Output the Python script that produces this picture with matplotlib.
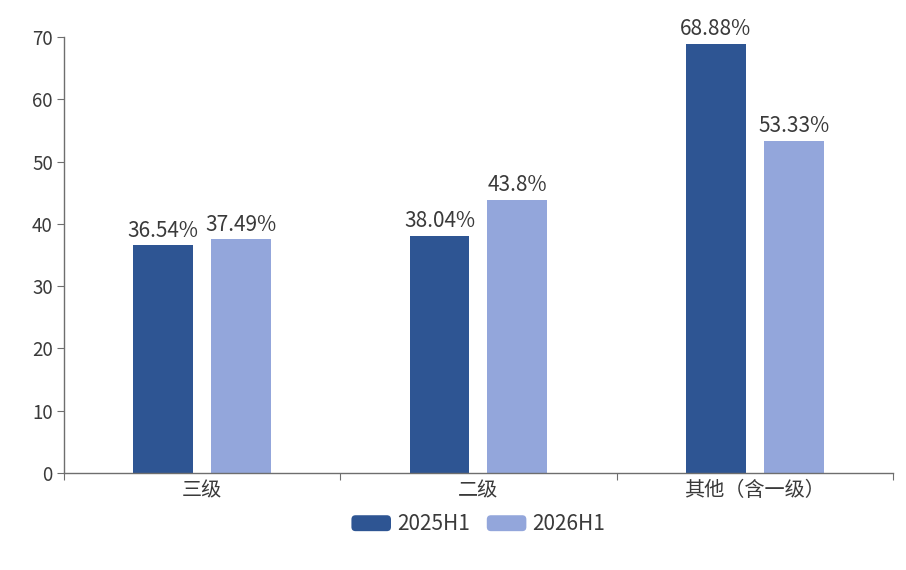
import numpy as np
import matplotlib.pyplot as plt
from matplotlib.patches import FancyBboxPatch
from matplotlib.legend_handler import HandlerPatch

plt.rcParams['font.family'] = ['Noto Sans CJK SC', 'DejaVu Sans']

categories = ['三级', '二级', '其他（含一级）']
series_names = ['2025H1', '2026H1']
values_2025 = [36.54, 38.04, 68.88]
values_2026 = [37.49, 43.8, 53.33]
labels_2025 = ['36.54%', '38.04%', '68.88%']
labels_2026 = ['37.49%', '43.8%', '53.33%']

dark = '#2e5593'
light = '#93a6db'
text_col = '#3a3a3a'
axis_col = '#6e6e6e'

fig = plt.figure(figsize=(9.06, 5.70), dpi=100)
ax = fig.add_axes([0.0706, 0.1702, 0.915, 0.7649])

x = np.arange(len(categories))
w = 0.217
off = 0.141
b1 = ax.bar(x - off, values_2025, w, color=dark, label=series_names[0])
b2 = ax.bar(x + off, values_2026, w, color=light, label=series_names[1])

for bars, labs in ((b1, labels_2025), (b2, labels_2026)):
    for bar, lab in zip(bars, labs):
        ax.text(bar.get_x() + bar.get_width() / 2, bar.get_height() + 0.6, lab,
                ha='center', va='bottom', fontsize=15, color=text_col)

ax.set_xlim(-0.5, 2.5)
ax.set_ylim(0, 70)
ax.set_yticks(range(0, 71, 10))
ax.set_xticks([-0.5, 0.5, 1.5, 2.5])
ax.set_xticklabels([])
ax.set_xticks(x, minor=True)
ax.set_xticklabels(categories, minor=True)
ax.tick_params(axis='x', which='major', length=5, color=axis_col, direction='out')
ax.tick_params(axis='x', which='minor', length=0, pad=5, labelsize=14.5, labelcolor=text_col)
ax.tick_params(axis='y', length=5, color=axis_col, labelsize=13.5, labelcolor=text_col, pad=3)

for s in ('top', 'right'):
    ax.spines[s].set_visible(False)
for s in ('left', 'bottom'):
    ax.spines[s].set_color(axis_col)
    ax.spines[s].set_linewidth(1.0)


class RoundHandler(HandlerPatch):
    def create_artists(self, legend, orig_handle, xdescent, ydescent, width, height, fontsize, trans):
        p = FancyBboxPatch((-xdescent, -ydescent), width, height,
                           boxstyle='round,pad=0,rounding_size=3',
                           facecolor=orig_handle.get_facecolor(), edgecolor='none',
                           transform=trans)
        return [p]


leg = ax.legend(handles=[b1.patches[0], b2.patches[0]], labels=series_names,
                loc='center', bbox_to_anchor=(0.5, -0.118), ncol=2, frameon=False,
                fontsize=15, handlelength=1.9, handleheight=0.8, handletextpad=0.3,
                columnspacing=0.8, labelcolor=text_col,
                handler_map={b1.patches[0]: RoundHandler(), b2.patches[0]: RoundHandler()})

fig.savefig('out.png', dpi=100)
